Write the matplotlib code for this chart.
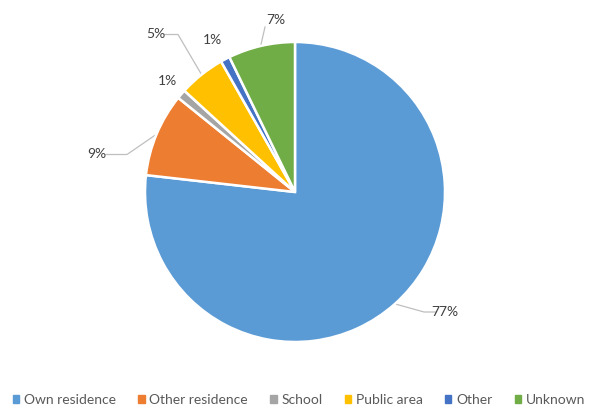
import numpy as np
import matplotlib.pyplot as plt

categories = ["Own residence", "Other residence", "School", "Public area", "Other", "Unknown"]
values = [76.8, 9.0, 1.0, 5.0, 1.0, 7.2]
labels = ["77%", "9%", "1%", "5%", "1%", "7%"]
colors = ["#5B9BD5", "#ED7D31", "#A5A5A5", "#FFC000", "#4472C4", "#70AD47"]

# label text positions (pie radius = 1) and leader line elbows
text_pos = [(1.0, -0.8), (-1.32, 0.25), (-0.85, 0.74), (-0.93, 1.05), (-0.55, 1.01), (-0.13, 1.15)]
elbows = [(0.86, -0.8), (-1.12, 0.25), None, (-0.78, 1.05), None, (-0.2, 1.1)]

plt.rcParams['font.family'] = ['Lato', 'DejaVu Sans']

fig = plt.figure(figsize=(5.98, 4.09), dpi=100)
ax = fig.add_axes([0, 0, 1, 1])

wedges, _ = ax.pie(values, colors=colors, startangle=90, counterclock=False,
                   radius=1, wedgeprops=dict(edgecolor="white", linewidth=1.8))

for w, lab, tp, el in zip(wedges, labels, text_pos, elbows):
    mid = np.deg2rad((w.theta1 + w.theta2) / 2)
    ex, ey = np.cos(mid), np.sin(mid)
    if el is not None:
        ha = "left" if tp[0] > el[0] else "right"
        xs = [ex, el[0], tp[0] - (0.06 if ha == "left" else -0.06)]
        ys = [ey, el[1], tp[1]]
        if lab == "7%":
            xs = [ex * 1.01, el[0]]
            ys = [ey * 1.01, el[1]]
        ax.plot(xs, ys, color="#BFBFBF", linewidth=0.9, zorder=0)
    ax.text(tp[0], tp[1], lab, ha="center", va="center", fontsize=10, color="#404040")

ax.set_aspect("auto")
ax.set_xlim(-295 / 150, (598 - 295) / 150)
ax.set_ylim(-(409 - 192) / 150, 192 / 150)
ax.axis("off")

handles = [plt.Rectangle((0, 0), 1, 1, color=c) for c in colors]
ax.legend(handles, categories, loc="center", bbox_to_anchor=(0.5, 0.022),
          bbox_transform=fig.transFigure, ncol=6, frameon=False, fontsize=10,
          handlelength=0.45, handleheight=0.45, handletextpad=0.35, columnspacing=1.6,
          labelcolor="#595959")

fig.savefig("out.png", dpi=100)
